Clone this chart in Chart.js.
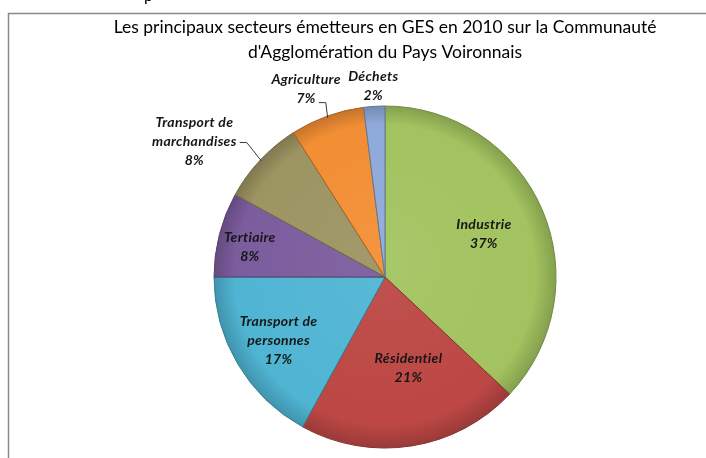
<!DOCTYPE html>
<html lang="fr">
<head>
<meta charset="utf-8">
<title>Secteurs émetteurs en GES 2010</title>
<script src="https://cdn.jsdelivr.net/npm/chart.js@4.4.1/dist/chart.umd.min.js"></script>
<style>
    html, body { margin: 0; padding: 0; background: #ffffff; }
    #wrap { width: 706px; height: 458px; }
</style>
</head>
<body>
<div id="wrap"><canvas id="gesChart" width="706" height="458"></canvas></div>
<script>
    'use strict';

    // Data (shares of GHG emissions, %)
    const categories = ['Industrie', 'Résidentiel', 'Transport de personnes', 'Tertiaire', 'Transport de marchandises', 'Agriculture', 'Déchets'];
    const shares = [37, 21, 17, 8, 8, 7, 2];
    const titleLines = ['Les principaux secteurs émetteurs en GES en 2010 sur la Communauté', "d'Agglomération du Pays Voironnais"];

    const sliceColors = ['#A2C35F', '#BC4744', '#4FB5D3', '#7B5C9D', '#9C9461', '#F28E34', '#8EAADA'];
    const PIE_RADIUS = 171;
    const FONT = 'Lato, "Open Sans", sans-serif';

    // where each data label sits: fraction of radius at mid angle, then pixel nudge
    const labelPlacement = [
        { f: 0.63, dx: 0, dy: 0 },
        { f: 0.54, dx: 9, dy: 0 },
        { f: 0.73, dx: 1, dy: 0 },
        { f: 0.81, dx: -1, dy: 4 },
        { f: 1.0, dx: -66, dy: -18.5, leader: 1 },
        { f: 1.0, dx: -21, dy: -27, leader: 1, leaderDown: true },
        { f: 1.0, dx: -1, dy: -20 }
    ];

    function mix(hex, target, amount) {
        const n = parseInt(hex.slice(1), 16);
        const r = (n >> 16) & 255, g = (n >> 8) & 255, b = n & 255;
        const t = target === 'white' ? 255 : 0;
        const m = (c) => Math.round(c + (t - c) * amount);
        return `rgb(${m(r)}, ${m(g)}, ${m(b)})`;
    }

    function wrapLabel(text) {
        if (text.startsWith('Transport de ')) {
            return ['Transport de', text.slice('Transport de '.length)];
        }
        return [text];
    }

    function sliceFill(context) {
        const base = sliceColors[context.dataIndex];
        const area = context.chart.chartArea;
        if (!area) {
            return base;
        }
        const cx = (area.left + area.right) / 2;
        const cy = (area.top + area.bottom) / 2;
        const g = context.chart.ctx.createRadialGradient(cx, cy - 20, 0, cx, cy, PIE_RADIUS);
        g.addColorStop(0, mix(base, 'white', 0.06));
        g.addColorStop(0.88, base);
        g.addColorStop(1, mix(base, 'black', 0.18));
        return g;
    }

    const framePlugin = {
        id: 'frame',
        beforeDraw(chart) {
            const ctx = chart.ctx;
            ctx.save();
            // clipped text fragment from above the frame
            ctx.fillStyle = '#000000';
            ctx.font = `16px ${FONT}`;
            ctx.textBaseline = 'alphabetic';
            ctx.fillText('p', 144, 1);
            ctx.strokeStyle = '#8a8a8a';
            ctx.lineWidth = 1.5;
            ctx.strokeRect(8.5, 13.5, 800, 600);
            ctx.restore();
        }
    };

    const sliceLabelPlugin = {
        id: 'sliceLabels',
        afterDatasetsDraw(chart) {
            const ctx = chart.ctx;
            const meta = chart.getDatasetMeta(0);
            const total = shares.reduce((a, b) => a + b, 0);
            const lineHeight = 19;

            ctx.save();
            ctx.font = `italic bold 14px ${FONT}`;
            ctx.letterSpacing = '0.3px';
            ctx.fillStyle = '#161616';
            ctx.textAlign = 'center';
            ctx.textBaseline = 'middle';

            meta.data.forEach((arc, i) => {
                const place = labelPlacement[i];
                const mid = (arc.startAngle + arc.endAngle) / 2;
                const edgeX = arc.x + Math.cos(mid) * arc.outerRadius * 0.99;
                const edgeY = arc.y + Math.sin(mid) * arc.outerRadius * 0.99;
                const cx = arc.x + Math.cos(mid) * arc.outerRadius * place.f + place.dx;
                const cy = arc.y + Math.sin(mid) * arc.outerRadius * place.f + place.dy;

                const lines = wrapLabel(categories[i]).concat([Math.round(shares[i] / total * 100) + '%']);
                const top = cy - (lines.length - 1) * lineHeight / 2;
                lines.forEach((line, k) => ctx.fillText(line, cx, top + k * lineHeight));

                if (place.leader !== undefined) {
                    const k = place.leader;
                    const w = ctx.measureText(lines[k]).width;
                    const sx = cx + w / 2 + 3;
                    const sy = top + k * lineHeight + (place.leaderDown ? 4 : 1);
                    ctx.beginPath();
                    ctx.strokeStyle = '#3a3a3a';
                    ctx.lineWidth = 1;
                    ctx.moveTo(sx, sy);
                    ctx.lineTo(sx + 7, sy);
                    ctx.lineTo(edgeX, edgeY);
                    ctx.stroke();
                }
            });
            ctx.restore();
        }
    };

    new Chart(document.getElementById('gesChart'), {
        type: 'pie',
        data: {
            labels: categories,
            datasets: [{
                data: shares,
                backgroundColor: sliceFill,
                borderColor: sliceColors.map((c) => mix(c, 'black', 0.3)),
                borderWidth: 1
            }]
        },
        options: {
            responsive: false,
            animation: false,
            radius: PIE_RADIUS,
            layout: { padding: { left: 64, right: 0, top: 0, bottom: 0 } },
            plugins: {
                legend: { display: false },
                tooltip: { enabled: false },
                title: {
                    display: true,
                    text: titleLines,
                    color: '#000000',
                    font: { family: FONT, size: 17.5, weight: 'normal', lineHeight: 1.43 },
                    padding: { top: 15, bottom: 31 }
                }
            }
        },
        plugins: [framePlugin, sliceLabelPlugin]
    });
</script>
</body>
</html>
